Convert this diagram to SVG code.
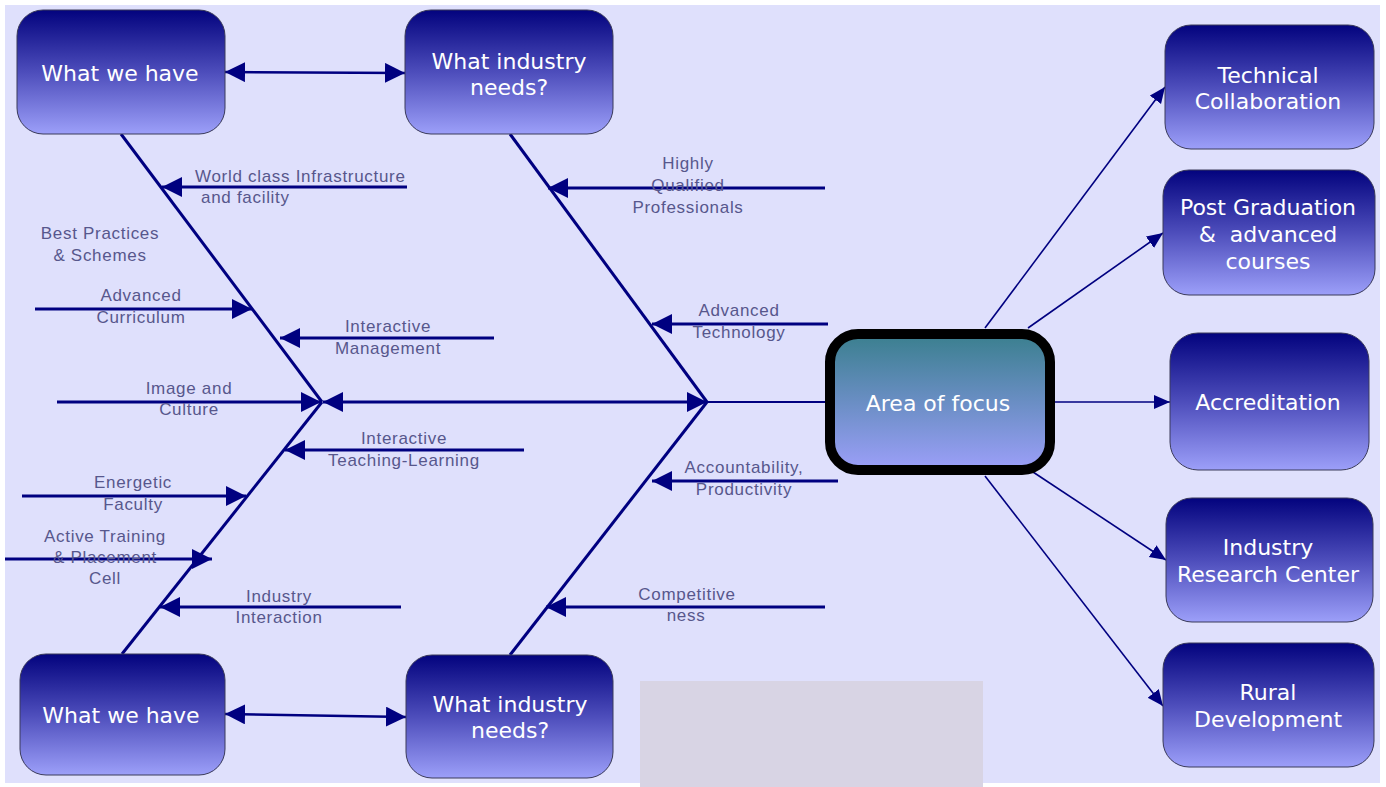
<svg xmlns="http://www.w3.org/2000/svg" width="1386" height="787" viewBox="0 0 1386 787">
<defs>
<linearGradient id="gBox" x1="0" y1="0" x2="0" y2="1">
<stop offset="0" stop-color="#03037e"/>
<stop offset="0.5" stop-color="#4d4dbb"/>
<stop offset="1" stop-color="#9c9ff9"/>
</linearGradient>
<linearGradient id="gFocus" x1="0" y1="0" x2="0" y2="1">
<stop offset="0" stop-color="#3a7f8e"/>
<stop offset="0.5" stop-color="#6a8ec4"/>
<stop offset="1" stop-color="#9c9ff9"/>
</linearGradient>
<marker id="big" markerUnits="userSpaceOnUse" markerWidth="22" markerHeight="22" refX="20" refY="10" orient="auto-start-reverse">
<path d="M0,0 L20,10 L0,20 z" fill="#000080"/>
</marker>
<marker id="small" markerUnits="userSpaceOnUse" markerWidth="18" markerHeight="16" refX="16" refY="7" orient="auto">
<path d="M0,0 L16,7 L0,14 z" fill="#000080"/>
</marker>
<style>
.box{fill:url(#gBox);stroke:#3a3a5a;stroke-width:1}
.bt{font-family:"DejaVu Sans",Verdana,sans-serif;font-size:22px;fill:#ffffff;text-anchor:middle;white-space:pre}
.lb{font-family:"Liberation Sans",Arial,sans-serif;font-size:17px;letter-spacing:0.7px;fill:#57578c;text-anchor:middle}
.sp{stroke:#000080;stroke-width:3;fill:none}
.br{stroke:#000080;stroke-width:3;fill:none;marker-end:url(#big)}
.rc{stroke:#000080;stroke-width:1.6;fill:none;marker-end:url(#small)}
</style>
</defs>
<rect x="0" y="0" width="1386" height="787" fill="#ffffff"/>
<rect x="5" y="5" width="1375" height="778" fill="#dfe0fc"/>
<rect x="640" y="681" width="343" height="106" fill="#d8d4e4"/>

<g id="connectors">
<line class="sp" x1="121" y1="134" x2="322" y2="402"/>
<line class="sp" x1="322" y1="402" x2="122" y2="654"/>
<line class="sp" x1="510" y1="134" x2="707" y2="402"/>
<line class="sp" x1="707" y1="402" x2="510" y2="655"/>
<line x1="225" y1="72" x2="405" y2="73" stroke="#000080" stroke-width="2.5" marker-start="url(#big)" marker-end="url(#big)"/>
<line x1="225" y1="714" x2="406" y2="717" stroke="#000080" stroke-width="2.5" marker-start="url(#big)" marker-end="url(#big)"/>
<line x1="323" y1="402" x2="707" y2="402" stroke="#000080" stroke-width="3" marker-start="url(#big)" marker-end="url(#big)"/>
<line x1="707" y1="402" x2="826" y2="402" stroke="#000080" stroke-width="2"/>
<line class="br" x1="407" y1="187" x2="162" y2="187"/>
<line class="br" x1="35" y1="309" x2="252" y2="309"/>
<line class="br" x1="494" y1="338" x2="280" y2="338"/>
<line class="br" x1="57" y1="402" x2="321" y2="402"/>
<line class="br" x1="524" y1="450" x2="285" y2="450"/>
<line class="br" x1="22" y1="496" x2="246" y2="496"/>
<line class="br" x1="5" y1="559" x2="212" y2="559"/>
<line class="br" x1="401" y1="607" x2="160" y2="607"/>
<line class="br" x1="825" y1="188" x2="548" y2="188"/>
<line class="br" x1="828" y1="324" x2="652" y2="324"/>
<line class="br" x1="838" y1="481" x2="652" y2="481"/>
<line class="br" x1="825" y1="607" x2="546" y2="607"/>
<line class="rc" x1="985" y1="328" x2="1165" y2="87"/>
<line class="rc" x1="1028" y1="328" x2="1163" y2="233"/>
<line class="rc" x1="1055" y1="402" x2="1170" y2="402"/>
<line class="rc" x1="1033" y1="472" x2="1166" y2="560"/>
<line class="rc" x1="985" y1="476" x2="1163" y2="706"/>
</g>

<g id="labels">
<text class="lb" x="195" y="182" style="text-anchor:start">World class Infrastructure</text>
<text class="lb" x="201" y="203" style="text-anchor:start">and facility</text>
<text class="lb" x="100" y="239">Best Practices</text>
<text class="lb" x="100" y="261">&amp; Schemes</text>
<text class="lb" x="141" y="301">Advanced</text>
<text class="lb" x="141" y="323">Curriculum</text>
<text class="lb" x="388" y="332">Interactive</text>
<text class="lb" x="388" y="354">Management</text>
<text class="lb" x="189" y="394">Image and</text>
<text class="lb" x="189" y="415">Culture</text>
<text class="lb" x="404" y="444">Interactive</text>
<text class="lb" x="404" y="466">Teaching-Learning</text>
<text class="lb" x="133" y="488">Energetic</text>
<text class="lb" x="133" y="510">Faculty</text>
<text class="lb" x="105" y="542">Active Training</text>
<text class="lb" x="105" y="563">&amp; Placement</text>
<text class="lb" x="105" y="584">Cell</text>
<text class="lb" x="279" y="602">Industry</text>
<text class="lb" x="279" y="623">Interaction</text>
<text class="lb" x="688" y="169">Highly</text>
<text class="lb" x="688" y="191">Qualified</text>
<text class="lb" x="688" y="213">Professionals</text>
<text class="lb" x="739" y="316">Advanced</text>
<text class="lb" x="739" y="338">Technology</text>
<text class="lb" x="744" y="473">Accountability,</text>
<text class="lb" x="744" y="495">Productivity</text>
<text class="lb" x="687" y="600">Competitive</text>
<text class="lb" x="686" y="621">ness</text>
</g>

<g id="have-top"><rect class="box" x="17" y="10" width="208" height="124" rx="26"/><text class="bt" x="120" y="81">What we have</text></g>
<g id="needs-top"><rect class="box" x="405" y="10" width="208" height="124" rx="26"/><text class="bt" x="509" y="69">What industry</text><text class="bt" x="509" y="95">needs?</text></g>
<g id="have-bottom"><rect class="box" x="20" y="654" width="205" height="121" rx="26"/><text class="bt" x="121" y="723">What we have</text></g>
<g id="needs-bottom"><rect class="box" x="406" y="655" width="207" height="123" rx="26"/><text class="bt" x="510" y="712">What industry</text><text class="bt" x="510" y="738">needs?</text></g>
<g id="focus"><rect x="830" y="334" width="220" height="136" rx="28" fill="url(#gFocus)" stroke="#000000" stroke-width="10"/><text class="bt" x="938" y="411">Area of focus</text></g>
<g id="tech"><rect class="box" x="1165" y="25" width="209" height="124" rx="26"/><text class="bt" x="1268" y="83">Technical</text><text class="bt" x="1268" y="109">Collaboration</text></g>
<g id="postgrad"><rect class="box" x="1163" y="170" width="212" height="125" rx="26"/><text class="bt" x="1268" y="215">Post Graduation</text><text class="bt" x="1268" y="242">&amp;  advanced</text><text class="bt" x="1268" y="269">courses</text></g>
<g id="accred"><rect class="box" x="1170" y="333" width="199" height="137" rx="28"/><text class="bt" x="1268" y="410">Accreditation</text></g>
<g id="research"><rect class="box" x="1166" y="498" width="207" height="124" rx="26"/><text class="bt" x="1268" y="555">Industry</text><text class="bt" x="1268" y="582">Research Center</text></g>
<g id="rural"><rect class="box" x="1163" y="643" width="211" height="124" rx="26"/><text class="bt" x="1268" y="700">Rural</text><text class="bt" x="1268" y="727">Development</text></g>
</svg>
